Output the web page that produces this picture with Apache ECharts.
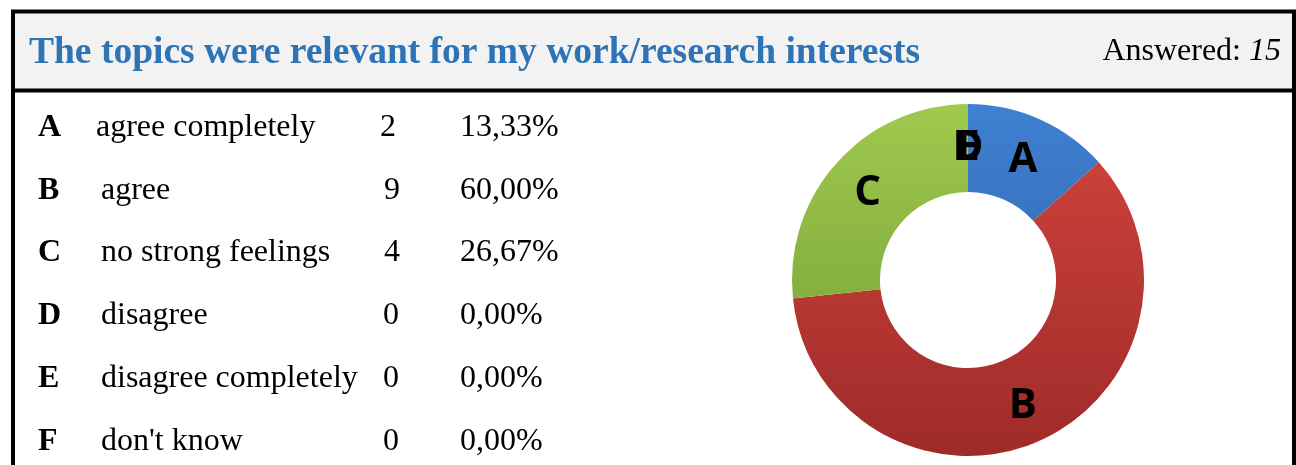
<!DOCTYPE html>
<html>
<head>
<meta charset="utf-8">
<script src="https://cdn.jsdelivr.net/npm/echarts@6/dist/echarts.min.js"></script>
<style>
html, body { margin: 0; padding: 0; background: #fff; }
</style>
</head>
<body>
	<div id="main" style="width: 1296px; height: 465px;"></div>
	<script type="text/javascript">
		var title = 'The topics were relevant for my work/research interests';
		var answered = 15;
		var letters = [ 'A', 'B', 'C', 'D', 'E', 'F' ];
		var answers = [ 'agree completely', 'agree', 'no strong feelings', 'disagree', 'disagree completely', "don't know" ];
		var counts = [ 2, 9, 4, 0, 0, 0 ];
		var percents = [ '13,33%', '60,00%', '26,67%', '0,00%', '0,00%', '0,00%' ];

		var myChart = echarts.init(document.getElementById('main'));

		// colours: light at top of the ring, darker at the bottom
		function grad(top, bottom) {
			return {
				type : 'linear', x : 0, y : 104, x2 : 0, y2 : 456, global : true,
				colorStops : [ { offset : 0, color : top }, { offset : 1, color : bottom } ]
			};
		}
		var sliceColors = [
			grad('#3f80d2', '#2c5c9c'),
			grad('#d4443e', '#9e2b29'),
			grad('#a0c94e', '#6f9a33'),
			'#8064a2', '#4bacc6', '#f79646'
		];

		// F has no label on the ring in the original
		var pieData = [];
		for (var i = 0; i < letters.length; i++) {
			pieData.push({
				name : letters[i],
				value : counts[i],
				itemStyle : { color : sliceColors[i] },
				label : { show : letters[i] !== 'F' }
			});
		}

		// table rows as text
		var rowY = [ 128, 191, 253, 316, 379, 442 ];
		var descX = [ 96, 101, 101, 101, 101, 101 ];
		var countX = [ 380, 384, 384, 383, 383, 383 ];
		var rows = [];
		for (var j = 0; j < letters.length; j++) {
			var f = '32px "Liberation Serif", "Times New Roman", serif';
			rows.push({ type : 'text', x : 38, y : rowY[j], style : { text : letters[j], font : 'bold ' + f, fill : '#000', verticalAlign : 'middle' } });
			rows.push({ type : 'text', x : descX[j], y : rowY[j], style : { text : answers[j], font : f, fill : '#000', verticalAlign : 'middle' } });
			rows.push({ type : 'text', x : countX[j], y : rowY[j], style : { text : String(counts[j]), font : f, fill : '#000', verticalAlign : 'middle' } });
			rows.push({ type : 'text', x : 460, y : rowY[j], style : { text : percents[j], font : f, fill : '#000', verticalAlign : 'middle' } });
		}

		var option = {
			animation : false,
			graphic : [
				{ type : 'rect', shape : { x : 13, y : 12, width : 1281, height : 78 }, style : { fill : '#f2f2f2' }, z : 0 },
				{ type : 'rect', shape : { x : 13, y : 11.5, width : 1281, height : 470 }, style : { fill : null, stroke : '#000', lineWidth : 4 }, z : 2 },
				{ type : 'line', shape : { x1 : 11, y1 : 90.5, x2 : 1296, y2 : 90.5 }, style : { stroke : '#000', lineWidth : 4 }, z : 2 },
				{ type : 'text', x : 29, y : 53, style : { text : title, font : 'bold 37.5px "Liberation Serif", "Times New Roman", serif', fill : '#2e74b5', verticalAlign : 'middle' }, z : 3 },
				{ type : 'text', x : 1281, y : 52, style : {
					text : '{n|Answered: }{i|' + answered + '}', align : 'right', verticalAlign : 'middle',
					rich : {
						n : { font : '32px "Liberation Serif", serif', fill : '#000' },
						i : { font : 'italic 32px "Liberation Serif", serif', fill : '#000' }
					}
				}, z : 3 }
			].concat(rows),
			series : [ {
				type : 'pie',
				center : [ 968, 280 ],
				radius : [ 88, 176 ],
				startAngle : 90,
				clockwise : true,
				avoidLabelOverlap : false,
				minShowLabelAngle : -1,
				labelLayout : { hideOverlap : false },
				label : {
					show : true,
					position : 'inside',
					formatter : '{b}',
					color : '#000',
					fontFamily : '"Open Sans", sans-serif',
					fontWeight : 'bold',
					fontSize : 42,
					offset : [ 0, 3 ],
					textBorderWidth : 0
				},
				labelLine : { show : false },
				emphasis : { disabled : true },
				itemStyle : { borderWidth : 0 },
				data : pieData
			} ]
		};

		myChart.setOption(option);
	</script>
</body>
</html>
